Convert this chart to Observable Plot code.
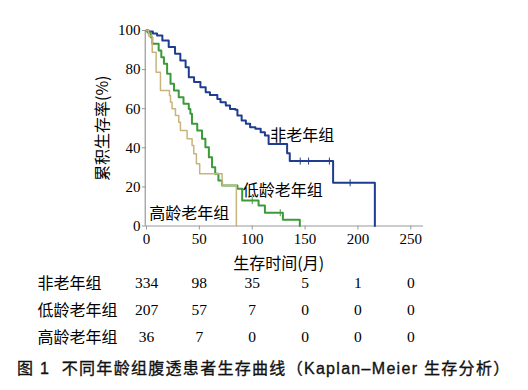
<!DOCTYPE html>
<html>
<head>
<meta charset="utf-8">
<script src="https://cdn.jsdelivr.net/npm/d3@7"></script>
<script src="https://cdn.jsdelivr.net/npm/@observablehq/plot@0.6"></script>
<style>
  body { margin: 0; background: #fff; width: 528px; height: 390px; overflow: hidden; }
  #chart svg { display: block; }
  #caption { font-family: "Liberation Sans", "Noto Sans CJK SC", sans-serif; font-size: 16px; font-weight: normal;
             -webkit-text-stroke: 0.35px #111;
             letter-spacing: 1.3px; padding-left: 17px; margin-top: 7px; line-height: 24px; white-space: nowrap; color: #111; }
</style>
</head>
<body>
<div id="chart"></div>
<div id="caption">图 1&nbsp; 不同年龄组腹透患者生存曲线（Kaplan–Meier 生存分析）</div>
<script>
// Kaplan–Meier step points (time in months, survival %)
const groups = ["非老年组", "低龄老年组", "高龄老年组"];
const nonElderlyT = [0, 2, 6, 10, 15, 21, 27, 32, 37, 40, 45, 51, 56, 60, 67, 70, 75, 79, 84, 86, 90, 94, 98, 103, 108, 112, 115.5, 133, 135.5, 176.5, 216];
const nonElderlyS = [100, 99.5, 98.5, 97.4, 94.9, 91.5, 88.1, 84.7, 81.2, 76.1, 73.6, 71.0, 68.4, 67.0, 65.0, 63.3, 61.6, 59.9, 59.4, 56.5, 54.0, 52.3, 50.5, 49.7, 48.0, 46.3, 42.0, 37.2, 33.2, 22.1, 0];
const youngOldT = [0, 1, 4, 5.5, 11.5, 14, 16.5, 19.5, 22.7, 26, 30.5, 35, 40, 41.5, 43, 48, 52.5, 55.7, 59, 62, 65, 68, 71.5, 86, 90.5, 106, 112, 129, 145];
const youngOldS = [100, 99, 96.6, 93.2, 89.8, 86.3, 83.0, 77.9, 72.7, 69.3, 65.9, 62.5, 59.9, 57.4, 52.3, 48.8, 44.6, 40.3, 35.2, 30.1, 26.7, 23.3, 20.7, 19.0, 13.0, 10.5, 6.8, 3.2, 0];
const oldOldT = [0, 2, 5.4, 9.1, 13.2, 21.7, 22.7, 24.2, 27.4, 30.5, 32.1, 38.4, 43.1, 44.7, 47.2, 50.3, 71.5, 85];
const oldOldS = [100, 97.2, 88.9, 78.7, 69.3, 66.8, 63.3, 60.0, 56.5, 53.1, 48.8, 44.6, 41.2, 36.9, 31.8, 26.7, 20.7, 0];

// censor marks
const censorT = [145.4, 153.3, 173, 192.6, 100, 126.5];
const censorS = [33.2, 33.2, 33.2, 22.1, 13.0, 6.8];
const censorG = ["非老年组", "非老年组", "非老年组", "非老年组", "低龄老年组", "低龄老年组"];

// curve labels
const labelT = [117, 91, 2.5];
const labelS = [46.3, 18.2, 6.4];

// numbers at risk
const riskTimes = [0, 50, 100, 150, 200, 250];
const riskNon = [334, 98, 35, 5, 1, 0];
const riskYoung = [207, 57, 7, 0, 0, 0];
const riskOld = [36, 7, 0, 0, 0, 0];

const xTicks = [0, 50, 100, 150, 200, 250];
const yTicks = [0, 20, 40, 60, 80, 100];

const colors = ["#1f3d8f", "#3d9a3a", "#c8b47c"];
const widths = [2, 2, 1.5];

const curves = [[nonElderlyT, nonElderlyS], [youngOldT, youngOldS], [oldOldT, oldOldS]];
const lineData = curves.flatMap(([T, S], i) => T.map((t, j) => ({t, s: S[j], g: groups[i]})));
const censors = censorT.map((t, i) => ({t, s: censorS[i], g: censorG[i]}));
const labels = labelT.map((t, i) => ({t, s: labelS[i], g: groups[i]}));
const risk = [riskNon, riskYoung, riskOld].flatMap((arr, i) => arr.map((n, j) => ({t: riskTimes[j], n, g: groups[i]})));

const serif = "'Liberation Serif', 'Noto Sans CJK SC', serif";
const cjk = "'Noto Sans CJK SC', sans-serif";
const vbar = {draw(ctx, size) { const r = 3.5; ctx.moveTo(0, -r); ctx.lineTo(0, r); }};

const xDomain = [0, 262];

const main = Plot.plot({
  width: 528, height: 276,
  marginLeft: 146, marginRight: 105, marginTop: 30, marginBottom: 50.5,
  style: {fontFamily: serif, fontSize: "15px", color: "#000", background: "#fff"},
  x: {domain: xDomain},
  y: {domain: [0, 100]},
  marks: [
    Plot.ruleY([0], {stroke: "#999", strokeWidth: 1.2}),
    Plot.ruleX([0], {x: () => -1.2, stroke: "#999", strokeWidth: 1.2}),
    Plot.axisX({ticks: xTicks, tickSize: 4, tickPadding: 3, stroke: "#999", label: null, fontSize: 15}),
    Plot.axisY({ticks: yTicks, tickSize: 4, tickPadding: 2, stroke: "#999", label: null, fontSize: 15}),
    ...groups.map((g, i) => Plot.line(lineData.filter(d => d.g === g), {
      x: "t", y: "s", curve: "step-after", stroke: colors[i], strokeWidth: widths[i]
    })),
    Plot.dot(censors, {x: "t", y: "s", symbol: vbar, stroke: d => colors[groups.indexOf(d.g)], strokeWidth: 1, r: 3}),
    Plot.text(labels, {x: "t", y: "s", text: "g", textAnchor: "start", fontFamily: cjk, fontSize: 16,
      fontWeight: d => d.g === groups[0] ? "bold" : "normal", fill: "#000"}),
    Plot.text(["生存时间(月)"], {x: () => 125, frameAnchor: "bottom", lineAnchor: "middle", dy: 37.5, fontFamily: cjk, fontSize: 16, fill: "#000"}),
    Plot.text(["累积生存率(%)"], {frameAnchor: "left", textAnchor: "middle", dx: -44, rotate: -90, fontFamily: cjk, fontSize: 16, fill: "#000"})
  ]
});

const table = Plot.plot({
  width: 528, height: 74,
  marginLeft: 146, marginRight: 105, marginTop: 7, marginBottom: 13,
  style: {fontFamily: serif, fontSize: "15px", color: "#000", background: "#fff", overflow: "visible"},
  x: {domain: xDomain, axis: null},
  y: {type: "point", domain: groups, padding: 0, axis: null},
  marks: [
    Plot.text(risk, {x: "t", y: "g", text: "n", fontSize: 15.5, fill: "#000"}),
    Plot.text(groups, {y: d => d, text: d => d, frameAnchor: "left", dx: -109, textAnchor: "start",
      fontFamily: cjk, fontSize: 16, fill: "#000"})
  ]
});

const el = document.getElementById("chart");
el.appendChild(main);
el.appendChild(table);
</script>
</body>
</html>
